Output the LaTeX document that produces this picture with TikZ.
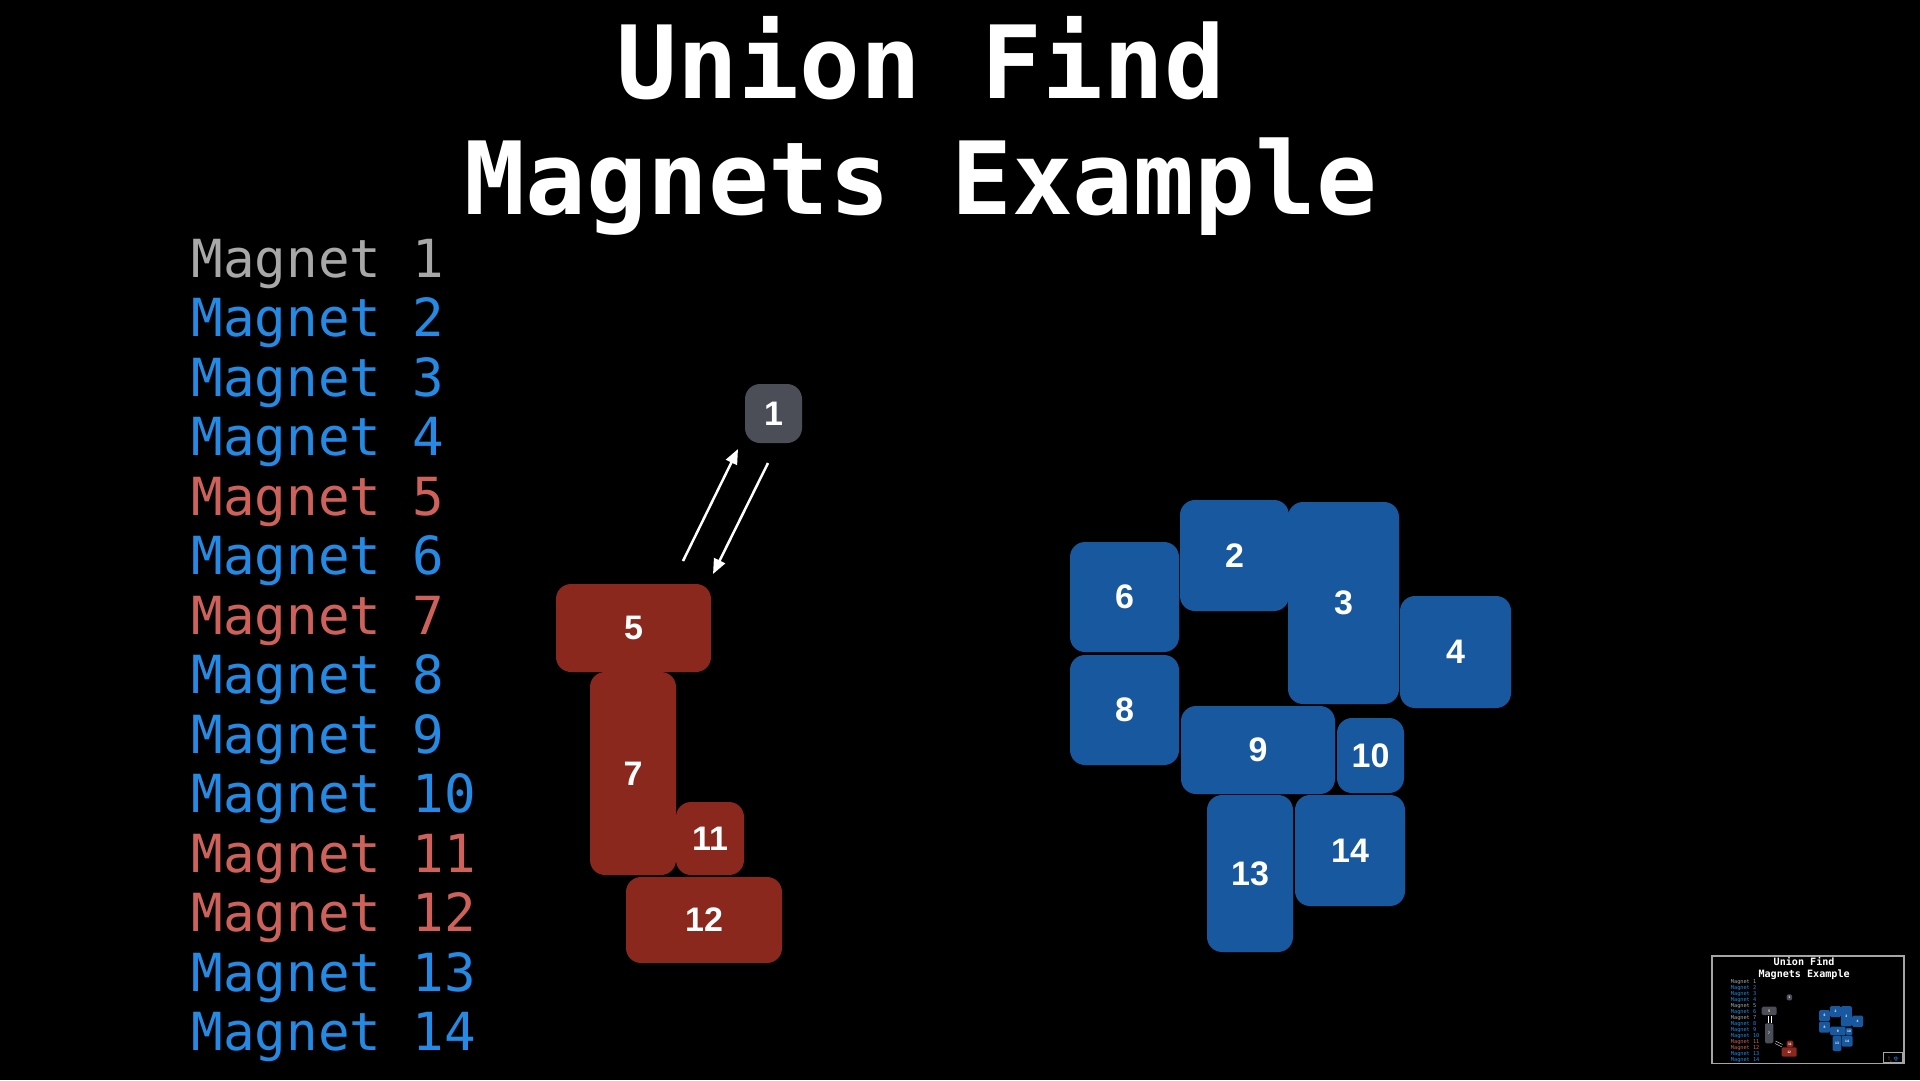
\documentclass[tikz,border=0pt]{standalone}
\usepackage{fontspec}
\setmainfont{Liberation Sans}
\setmonofont{DejaVu Sans Mono}
\usetikzlibrary{arrows.meta}
\definecolor{magblue}{RGB}{24,88,158}
\definecolor{magred}{RGB}{139,40,30}
\definecolor{maggray}{RGB}{75,78,86}
\definecolor{txtblue}{RGB}{36,138,228}
\definecolor{txtred}{RGB}{206,98,90}
\definecolor{txtgray}{RGB}{168,168,168}
\definecolor{framegray}{RGB}{165,165,165}
\newcommand\mbx[6]{\node[magbox, fill=#1, minimum width=#4pt, minimum height=#5pt] (#2) at (#3) {#6};}
\newcommand\bluecluster{%
  \mbx{magblue}{b2}{1234.5,555.5}{109}{111}{2}
  \mbx{magblue}{b3}{1343.5,603}{111}{202}{3}
  \mbx{magblue}{b4}{1455.5,652}{111}{112}{4}
  \mbx{magblue}{b6}{1124.5,597}{109}{110}{6}
  \mbx{magblue}{b8}{1124.5,710}{109}{110}{8}
  \mbx{magblue}{b9}{1258,750}{154}{88}{9}
  \mbx{magblue}{b10}{1370.5,755.5}{67}{75}{10}
  \mbx{magblue}{b13}{1250,873.5}{86}{157}{13}
  \mbx{magblue}{b14}{1350,850.5}{110}{111}{14}
}
\newcommand\slidetitle{%
  \node[titletxt] (title1) at (921,98) {Union Find};
  \node[titletxt] (title2) at (921,214) {Magnets Example};
}
\begin{document}
\begin{tikzpicture}[x=1pt,y=-1pt,
  magbox/.style={rectangle, rounded corners=15pt, inner sep=0pt, text=white,
    font=\bfseries\fontsize{34}{34}\selectfont},
  titletxt/.style={anchor=base, inner sep=0pt, text=white,
    font=\ttfamily\bfseries\fontsize{101}{101}\selectfont},
  listtxt/.style={anchor=base west, inner sep=0pt,
    font=\ttfamily\fontsize{52.5}{52.5}\selectfont},
  flow/.style={draw=white, line width=2.5pt, -{Triangle[length=15pt,width=12pt]}},
  tflow/.style={draw=white, line width=0.35pt},
  frame/.style={draw=framegray}]
\fill[black] (0,0) rectangle (1920,1080);
\useasboundingbox (0,0) rectangle (1920,1080);

\slidetitle
\foreach \i/\c in {1/txtgray,2/txtblue,3/txtblue,4/txtblue,5/txtred,6/txtblue,7/txtred,8/txtblue,9/txtblue,10/txtblue,11/txtred,12/txtred,13/txtblue,14/txtblue}
  {\node[listtxt, text=\c] (m\i) at (191.5,{277+(\i-1)*59.5}) {Magnet \i};}

% red group and magnet 1
\mbx{maggray}{g1}{773.5,413.5}{57}{59}{1}
\mbx{magred}{r5}{633.5,628}{155}{88}{5}
\mbx{magred}{r7}{633,773.5}{86}{203}{7}
\mbx{magred}{r11}{710,838.5}{68}{73}{11}
\mbx{magred}{r12}{704,920}{156}{86}{12}
\coordinate (upA) at (683,561);
\coordinate (upB) at (738,449);
\coordinate (dnA) at (768,463);
\coordinate (dnB) at (713,574);
\draw[flow] (upA) -- (upB);
\draw[flow] (dnA) -- (dnB);

% blue group
\bluecluster

% thumbnail of previous slide
\begin{scope}[shift={(1712,956)}, scale=0.1, transform shape,
  magbox/.append style={rounded corners=1.4pt}, name prefix=t-]
  \draw[frame, line width=1.3pt] (0,0) rectangle (1920,1075);
  \slidetitle
  \foreach \i/\c in {1/txtgray,2/txtblue,3/txtblue,4/txtblue,5/txtgray,6/txtblue,7/txtgray,8/txtblue,9/txtblue,10/txtblue,11/txtred,12/txtred,13/txtblue,14/txtblue}
    {\node[listtxt, text=\c] (m\i) at (189,{277+(\i-1)*59.5}) {Magnet \i};}
  \mbx{maggray}{g1}{773.5,413.5}{57}{59}{1}
  \mbx{maggray}{g5}{572,548.5}{150}{83}{5}
  \mbx{maggray}{g7}{571.5,773}{83}{200}{7}
  \mbx{magred}{r11}{780,880}{66}{66}{11}
  \mbx{magred}{r12}{772,960}{150}{94}{12}
  \bluecluster
  \begin{scope}[shift={(1712,956)}, scale=0.1, transform shape,
    magbox/.append style={rounded corners=0.14pt}, name prefix=tt-]
    \fill[black] (0,0) rectangle (1920,1075);
    \draw[frame, line width=0.15pt] (0,0) rectangle (1920,1075);
    \mbx{maggray}{g5}{572,548.5}{150}{83}{}
    \mbx{maggray}{g7}{571.5,773}{83}{200}{}
    \mbx{magred}{r12}{772,960}{150}{94}{}
    \mbx{magblue}{b2}{1234.5,555.5}{109}{111}{}
    \mbx{magblue}{b3}{1343.5,603}{111}{202}{}
    \mbx{magblue}{b4}{1455.5,652}{111}{112}{}
    \mbx{magblue}{b6}{1124.5,597}{109}{110}{}
    \mbx{magblue}{b8}{1124.5,710}{109}{110}{}
    \mbx{magblue}{b9}{1258,750}{154}{88}{}
    \mbx{magblue}{b10}{1370.5,755.5}{67}{75}{}
    \mbx{magblue}{b13}{1250,873.5}{86}{157}{}
    \mbx{magblue}{b14}{1350,850.5}{110}{111}{}
  \end{scope}
\end{scope}
% thumbnail connectors (absolute coordinates)
\coordinate (ta1) at (1768,1016);
\coordinate (ta2) at (1768,1022.8);
\coordinate (ta3) at (1771,1022.8);
\coordinate (ta4) at (1771,1016);
\coordinate (ta5) at (1775.5,1041);
\coordinate (ta6) at (1782.5,1044.5);
\coordinate (ta7) at (1782,1047);
\coordinate (ta8) at (1775,1043.5);
\draw[tflow] (ta1) -- (ta2);
\draw[tflow] (ta3) -- (ta4);
\draw[tflow] (ta5) -- (ta6);
\draw[tflow] (ta7) -- (ta8);
\end{tikzpicture}
\end{document}
